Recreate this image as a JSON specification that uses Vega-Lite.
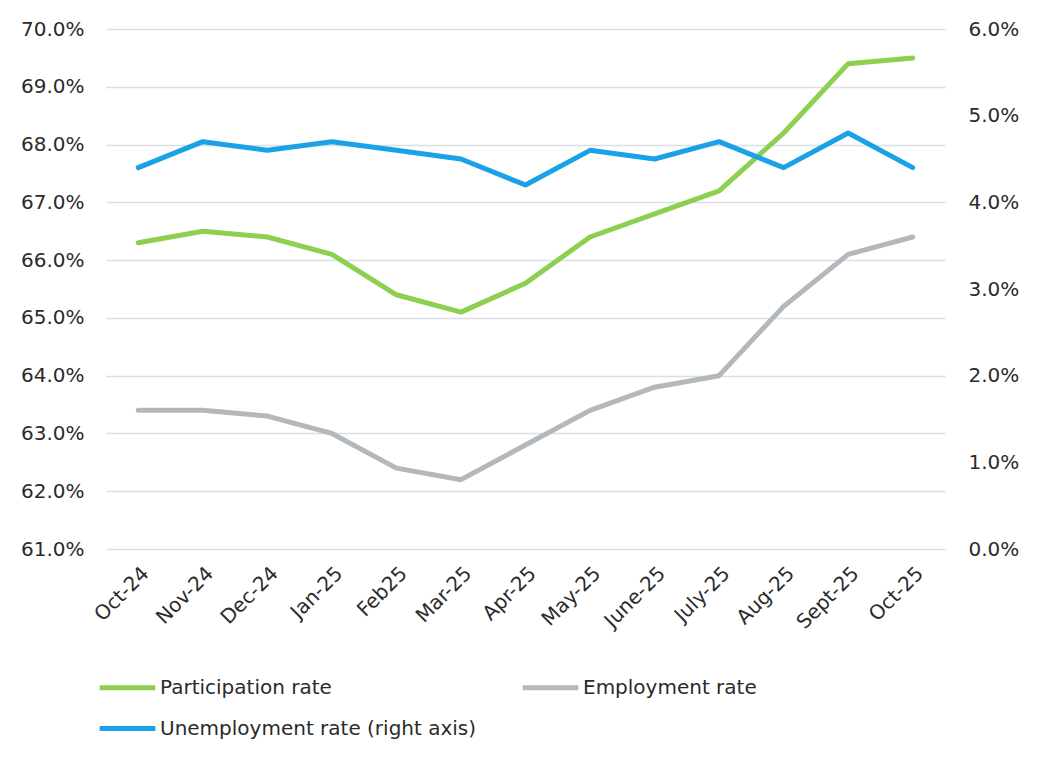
{
  "$schema": "https://vega.github.io/schema/vega-lite/v6.json",
  "width": 839,
  "height": 520,
  "autosize": {"type": "none"},
  "padding": {"left": 106, "top": 29, "right": 95, "bottom": 208},
  "background": "white",
  "config": {
    "font": "DejaVu Sans",
    "view": {"stroke": null},
    "axis": {"labelFont": "DejaVu Sans", "labelColor": "#2b2b2b", "labelFontSize": 20, "ticks": false, "domain": false, "title": null},
    "legend": {"labelFont": "DejaVu Sans"}
  },
  "data": {
    "values": [
      {"month": "Oct-24", "series": "Participation rate", "value": 66.3},
      {"month": "Nov-24", "series": "Participation rate", "value": 66.5},
      {"month": "Dec-24", "series": "Participation rate", "value": 66.4},
      {"month": "Jan-25", "series": "Participation rate", "value": 66.1},
      {"month": "Feb25", "series": "Participation rate", "value": 65.4},
      {"month": "Mar-25", "series": "Participation rate", "value": 65.1},
      {"month": "Apr-25", "series": "Participation rate", "value": 65.6},
      {"month": "May-25", "series": "Participation rate", "value": 66.4},
      {"month": "June-25", "series": "Participation rate", "value": 66.8},
      {"month": "July-25", "series": "Participation rate", "value": 67.2},
      {"month": "Aug-25", "series": "Participation rate", "value": 68.2},
      {"month": "Sept-25", "series": "Participation rate", "value": 69.4},
      {"month": "Oct-25", "series": "Participation rate", "value": 69.5},
      {"month": "Oct-24", "series": "Employment rate", "value": 63.4},
      {"month": "Nov-24", "series": "Employment rate", "value": 63.4},
      {"month": "Dec-24", "series": "Employment rate", "value": 63.3},
      {"month": "Jan-25", "series": "Employment rate", "value": 63.0},
      {"month": "Feb25", "series": "Employment rate", "value": 62.4},
      {"month": "Mar-25", "series": "Employment rate", "value": 62.2},
      {"month": "Apr-25", "series": "Employment rate", "value": 62.8},
      {"month": "May-25", "series": "Employment rate", "value": 63.4},
      {"month": "June-25", "series": "Employment rate", "value": 63.8},
      {"month": "July-25", "series": "Employment rate", "value": 64.0},
      {"month": "Aug-25", "series": "Employment rate", "value": 65.2},
      {"month": "Sept-25", "series": "Employment rate", "value": 66.1},
      {"month": "Oct-25", "series": "Employment rate", "value": 66.4},
      {"month": "Oct-24", "series": "Unemployment rate (right axis)", "value": 4.4},
      {"month": "Nov-24", "series": "Unemployment rate (right axis)", "value": 4.7},
      {"month": "Dec-24", "series": "Unemployment rate (right axis)", "value": 4.6},
      {"month": "Jan-25", "series": "Unemployment rate (right axis)", "value": 4.7},
      {"month": "Feb25", "series": "Unemployment rate (right axis)", "value": 4.6},
      {"month": "Mar-25", "series": "Unemployment rate (right axis)", "value": 4.5},
      {"month": "Apr-25", "series": "Unemployment rate (right axis)", "value": 4.2},
      {"month": "May-25", "series": "Unemployment rate (right axis)", "value": 4.6},
      {"month": "June-25", "series": "Unemployment rate (right axis)", "value": 4.5},
      {"month": "July-25", "series": "Unemployment rate (right axis)", "value": 4.7},
      {"month": "Aug-25", "series": "Unemployment rate (right axis)", "value": 4.4},
      {"month": "Sept-25", "series": "Unemployment rate (right axis)", "value": 4.8},
      {"month": "Oct-25", "series": "Unemployment rate (right axis)", "value": 4.4}
    ]
  },
  "encoding": {
    "x": {
      "field": "month", "type": "nominal", "sort": null,
      "scale": {"type": "point", "padding": 0.5},
      "axis": {"labelAngle": -45, "labelPadding": 14, "grid": false}
    },
    "color": {
      "field": "series", "type": "nominal",
      "scale": {
        "domain": ["Participation rate", "Employment rate", "Unemployment rate (right axis)"],
        "range": ["#8dcf4f", "#b3b8bc", "#1aa1e6"]
      },
      "legend": {
        "title": null, "orient": "none", "legendX": -9, "legendY": 628,
        "direction": "horizontal",
        "columns": 2, "columnPadding": 35, "rowPadding": 0,
        "symbolType": "stroke", "symbolSize": 3100, "symbolStrokeWidth": 5,
        "labelFontSize": 20, "labelColor": "#2b2b2b", "labelOffset": 2,
        "labelLimit": 400
      }
    }
  },
  "layer": [
    {
      "transform": [{"filter": "datum.series !== 'Unemployment rate (right axis)'"}],
      "mark": {"type": "line", "strokeWidth": 5, "strokeCap": "round", "strokeJoin": "round"},
      "encoding": {
        "y": {
          "field": "value", "type": "quantitative",
          "scale": {"domain": [61, 70], "nice": false, "zero": false},
          "axis": {"orient": "left", "values": [61,62,63,64,65,66,67,68,69,70], "labelExpr": "format(datum.value, '.1f') + '%'", "labelPadding": 22, "grid": true, "gridColor": "#dcdfe2", "gridWidth": 1.5}
        }
      }
    },
    {
      "transform": [{"filter": "datum.series === 'Unemployment rate (right axis)'"}],
      "mark": {"type": "line", "strokeWidth": 5, "strokeCap": "round", "strokeJoin": "round"},
      "encoding": {
        "y": {
          "field": "value", "type": "quantitative",
          "scale": {"domain": [0, 6], "nice": false},
          "axis": {"orient": "right", "values": [0,1,2,3,4,5,6], "labelExpr": "format(datum.value, '.1f') + '%'", "labelPadding": 23, "grid": false}
        }
      }
    }
  ],
  "resolve": {"scale": {"y": "independent"}}
}
